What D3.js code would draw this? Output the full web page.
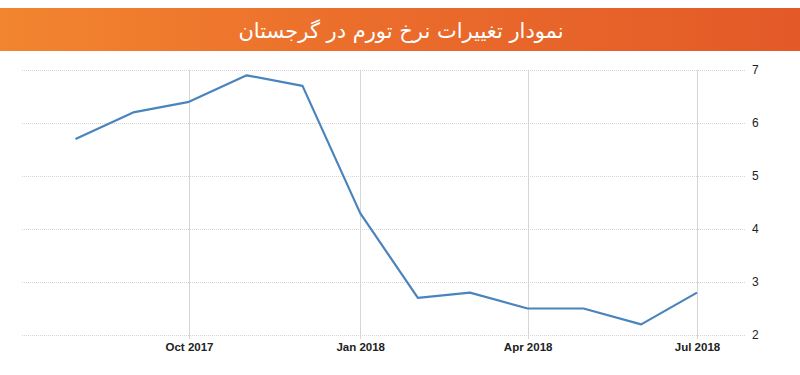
<!DOCTYPE html>
<html>
<head>
<meta charset="utf-8">
<script src="https://cdn.jsdelivr.net/npm/d3@7"></script>
<style>
  html, body { margin: 0; padding: 0; background: #fff; }
  svg { display: block; }
  .grid line { stroke: #d6d6d6; stroke-width: 1; }
  .grid-h line { stroke-dasharray: 1 1; }
  .axis text { font-family: "Liberation Sans", Arial, sans-serif; font-size: 11.5px; fill: #222; }
</style>
</head>
<body>
<svg id="chart" width="800" height="375"></svg>
<script>
// Georgia inflation rate, monthly
const months = ['2017-08', '2017-09', '2017-10', '2017-11', '2017-12', '2018-01',
                '2018-02', '2018-03', '2018-04', '2018-05', '2018-06', '2018-07'];
const rates = [5.7, 6.2, 6.4, 6.9, 6.7, 4.3, 2.7, 2.8, 2.5, 2.5, 2.2, 2.8];
const xTicks = ['2017-10', '2018-01', '2018-04', '2018-07'];
const yTicks = [2, 3, 4, 5, 6, 7];
const title = 'نمودار تغییرات نرخ تورم در گرجستان';

const parse = d3.timeParse('%Y-%m');
const data = months.map((m, i) => ({ date: parse(m), value: rates[i] }));

const svg = d3.select('#chart');
const plot = { left: 22, right: 745, top: 70, bottom: 335 };

// banner
const grad = svg.append('defs').append('linearGradient')
  .attr('id', 'banner').attr('x1', 0).attr('x2', 1);
grad.append('stop').attr('offset', 0).attr('stop-color', '#f2852f');
grad.append('stop').attr('offset', 0.5).attr('stop-color', '#ea6b2b');
grad.append('stop').attr('offset', 1).attr('stop-color', '#e35a28');
svg.append('rect')
  .attr('x', 0).attr('y', 8).attr('width', 800).attr('height', 43)
  .attr('fill', 'url(#banner)');
svg.append('text')
  .attr('x', 401).attr('y', 38)
  .attr('text-anchor', 'middle')
  .attr('direction', 'rtl')
  .attr('fill', '#fff')
  .attr('font-family', '"DejaVu Sans", sans-serif')
  .attr('font-size', '21px')
  .text(title);

// scales: 1 Oct 2017 sits at x=189, 1 Jul 2018 at x=697
const x = d3.scaleTime()
  .domain([parse('2017-10'), parse('2018-07')])
  .range([189, 697]);
const y = d3.scaleLinear().domain([2, 7]).range([plot.bottom, plot.top]);

// horizontal grid
svg.append('g').attr('class', 'grid grid-h')
  .selectAll('line').data(yTicks).join('line')
  .attr('x1', plot.left).attr('x2', plot.right)
  .attr('y1', d => y(d) + 0.5).attr('y2', d => y(d) + 0.5);

// vertical grid
svg.append('g').attr('class', 'grid')
  .selectAll('line').data(xTicks.map(parse)).join('line')
  .attr('x1', d => Math.round(x(d)) + 0.5).attr('x2', d => Math.round(x(d)) + 0.5)
  .attr('y1', plot.top).attr('y2', plot.bottom + 4);

// x axis labels
svg.append('g').attr('class', 'axis')
  .attr('transform', `translate(0,${plot.bottom})`)
  .call(d3.axisBottom(x).tickValues(xTicks.map(parse))
    .tickFormat(d3.timeFormat('%b %Y')).tickSize(0).tickPadding(8))
  .call(g => g.select('.domain').remove())
  .selectAll('text').attr('font-weight', 'bold').attr('fill', '#2a2a3a');

// y axis labels on the right
svg.append('g').attr('class', 'axis')
  .attr('transform', `translate(${plot.right + 6},0)`)
  .call(d3.axisRight(y).tickValues(yTicks).tickFormat(d3.format('d')).tickSize(0).tickPadding(1))
  .call(g => g.select('.domain').remove())
  .selectAll('text').attr('fill', '#000').style('font-size', '12px');

// line
svg.append('path')
  .datum(data)
  .attr('fill', 'none')
  .attr('stroke', '#4a84bd')
  .attr('stroke-width', 2.2)
  .attr('stroke-linejoin', 'round')
  .attr('d', d3.line().x(d => x(d.date)).y(d => y(d.value)));
</script>
</body>
</html>
